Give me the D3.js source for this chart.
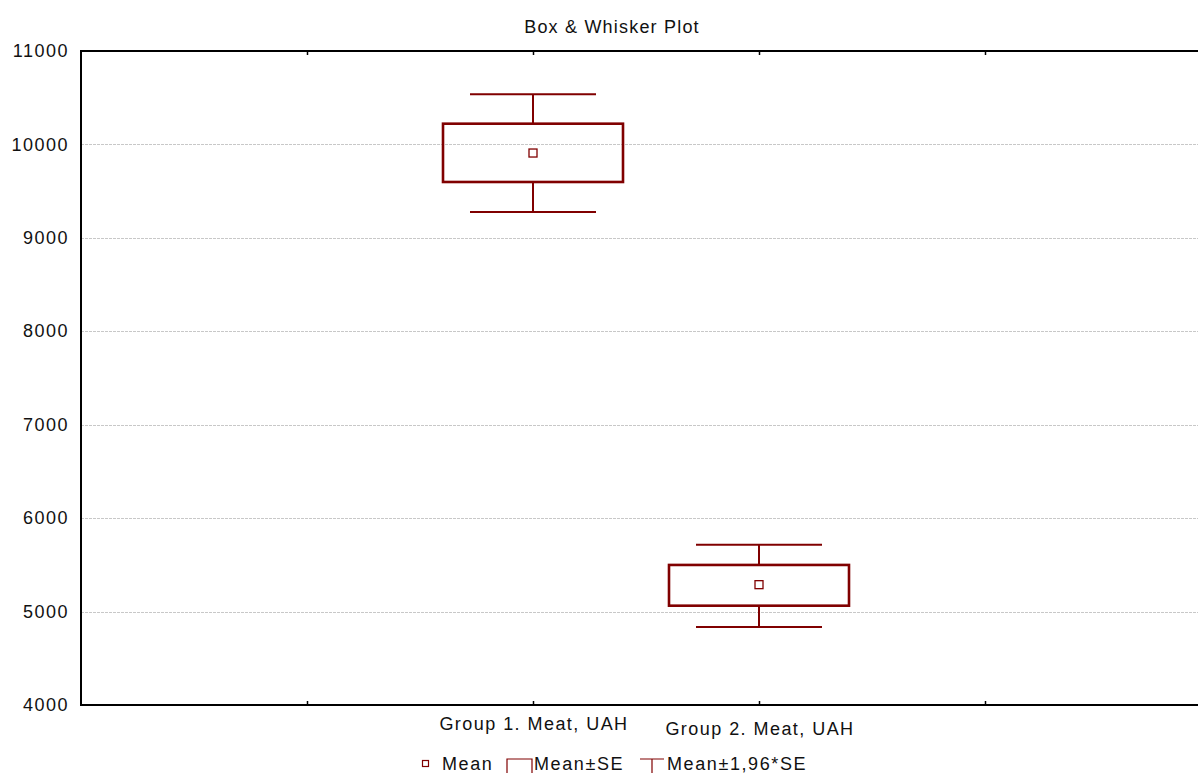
<!DOCTYPE html>
<html><head><meta charset="utf-8">
<script src="https://cdn.jsdelivr.net/npm/d3@7"></script>
<style>
html,body{margin:0;padding:0;background:#fff;}
text{font-family:"Liberation Sans",Arial,sans-serif;fill:#111;}
</style></head>
<body>
<svg id="c" width="1198" height="773"></svg>
<script>
const categories = ["Group 1. Meat, UAH", "Group 2. Meat, UAH"];
const means = [9908, 5288];
const seLow = [9598, 5063];
const seHigh = [10222, 5499];
const ciLow = [9277, 4835];
const ciHigh = [10537, 5716];
const yTicks = [4000, 5000, 6000, 7000, 8000, 9000, 10000, 11000];
const legendLabels = ["Mean", "Mean±SE", "Mean±1,96*SE"];

(function () {
const svg = d3.select("#c");
const pL = 81, pT = 51, pB = 705;
const color = "#800000";
const fs = 18;

const y = d3.scaleLinear().domain([4000, 11000]).range([pB, pT]);
// category slots: categories occupy positions 1 and 2 of a -1..4 band
const x = d3.scaleLinear().domain([-1, 4]).range([pL, 1211]);

// grid
svg.append("g").selectAll("line").data(yTicks.filter(t => t > 4000 && t < 11000)).join("line")
  .attr("x1", pL).attr("x2", 1198)
  .attr("y1", d => Math.round(y(d)) + 0.5).attr("y2", d => Math.round(y(d)) + 0.5)
  .attr("stroke", "#c8c8c8").attr("stroke-width", 1).attr("stroke-dasharray", "3,1");

// y axis labels
svg.append("g").selectAll("text").data(yTicks).join("text")
  .attr("x", 69).attr("y", d => y(d)).attr("dy", "0.34em")
  .attr("text-anchor", "end").attr("font-size", fs).attr("letter-spacing", 1.5).text(d => d);

// x ticks (bottom & top)
const xt = [0, 1, 2, 3];
svg.append("g").selectAll("line").data(xt).join("line")
  .attr("x1", d => Math.round(x(d)) + 0.5).attr("x2", d => Math.round(x(d)) + 0.5)
  .attr("y1", pB).attr("y2", pB - 4).attr("stroke", "#000").attr("stroke-width", 1.5);
svg.append("g").selectAll("line").data(xt).join("line")
  .attr("x1", d => Math.round(x(d)) + 0.5).attr("x2", d => Math.round(x(d)) + 0.5)
  .attr("y1", pT).attr("y2", pT + 4).attr("stroke", "#000").attr("stroke-width", 1.5);

// axes lines
svg.append("path").attr("d", `M1198,${pT}H${pL}V${pB}H1198`)
  .attr("fill", "none").attr("stroke", "#000").attr("stroke-width", 2);

// boxes
const idx = d3.range(categories.length);
const boxHalf = 90, capHalf = 63;
const g = svg.append("g");
idx.forEach(i => {
  const cx = x(i + 1);
  g.append("line").attr("x1", cx).attr("x2", cx).attr("y1", y(ciHigh[i])).attr("y2", y(seHigh[i]))
    .attr("stroke", color).attr("stroke-width", 2);
  g.append("line").attr("x1", cx).attr("x2", cx).attr("y1", y(seLow[i])).attr("y2", y(ciLow[i]))
    .attr("stroke", color).attr("stroke-width", 2);
  g.append("line").attr("x1", cx - capHalf).attr("x2", cx + capHalf).attr("y1", y(ciHigh[i])).attr("y2", y(ciHigh[i]))
    .attr("stroke", color).attr("stroke-width", 2);
  g.append("line").attr("x1", cx - capHalf).attr("x2", cx + capHalf).attr("y1", y(ciLow[i])).attr("y2", y(ciLow[i]))
    .attr("stroke", color).attr("stroke-width", 2);
  g.append("rect").attr("x", cx - boxHalf).attr("width", boxHalf * 2)
    .attr("y", y(seHigh[i])).attr("height", y(seLow[i]) - y(seHigh[i]))
    .attr("fill", "none").attr("stroke", color).attr("stroke-width", 2.6);
  g.append("rect").attr("x", cx - 4).attr("y", y(means[i]) - 4).attr("width", 8).attr("height", 8)
    .attr("fill", "#fff").attr("stroke", color).attr("stroke-width", 1.3);
});

// category labels
svg.append("g").selectAll("text").data(categories).join("text")
  .attr("x", (d, i) => x(i + 1) + 1).attr("y", (d, i) => i === 0 ? 730 : 735)
  .attr("text-anchor", "middle").attr("font-size", fs).attr("letter-spacing", 1.45).text(d => d);

// title
svg.append("text").attr("x", 612).attr("y", 32.5).attr("text-anchor", "middle")
  .attr("font-size", fs).attr("letter-spacing", 1.2).text("Box & Whisker Plot");

// legend
const lg = svg.append("g");
lg.append("rect").attr("x", 422.5).attr("y", 760.5).attr("width", 6).attr("height", 6)
  .attr("fill", "#fff").attr("stroke", color).attr("stroke-width", 1.2);
lg.append("path").attr("d", "M507,773V759H532V773").attr("fill", "none").attr("stroke", color).attr("stroke-width", 1.2);
lg.append("path").attr("d", "M640,759H664M652,759V773").attr("fill", "none").attr("stroke", color).attr("stroke-width", 1.2);
const lx = [442, 534, 667];
lg.selectAll("text").data(legendLabels).join("text")
  .attr("x", (d, i) => lx[i]).attr("y", 770).attr("font-size", fs).attr("letter-spacing", 1.6).text(d => d);
})();
</script>
</body></html>
